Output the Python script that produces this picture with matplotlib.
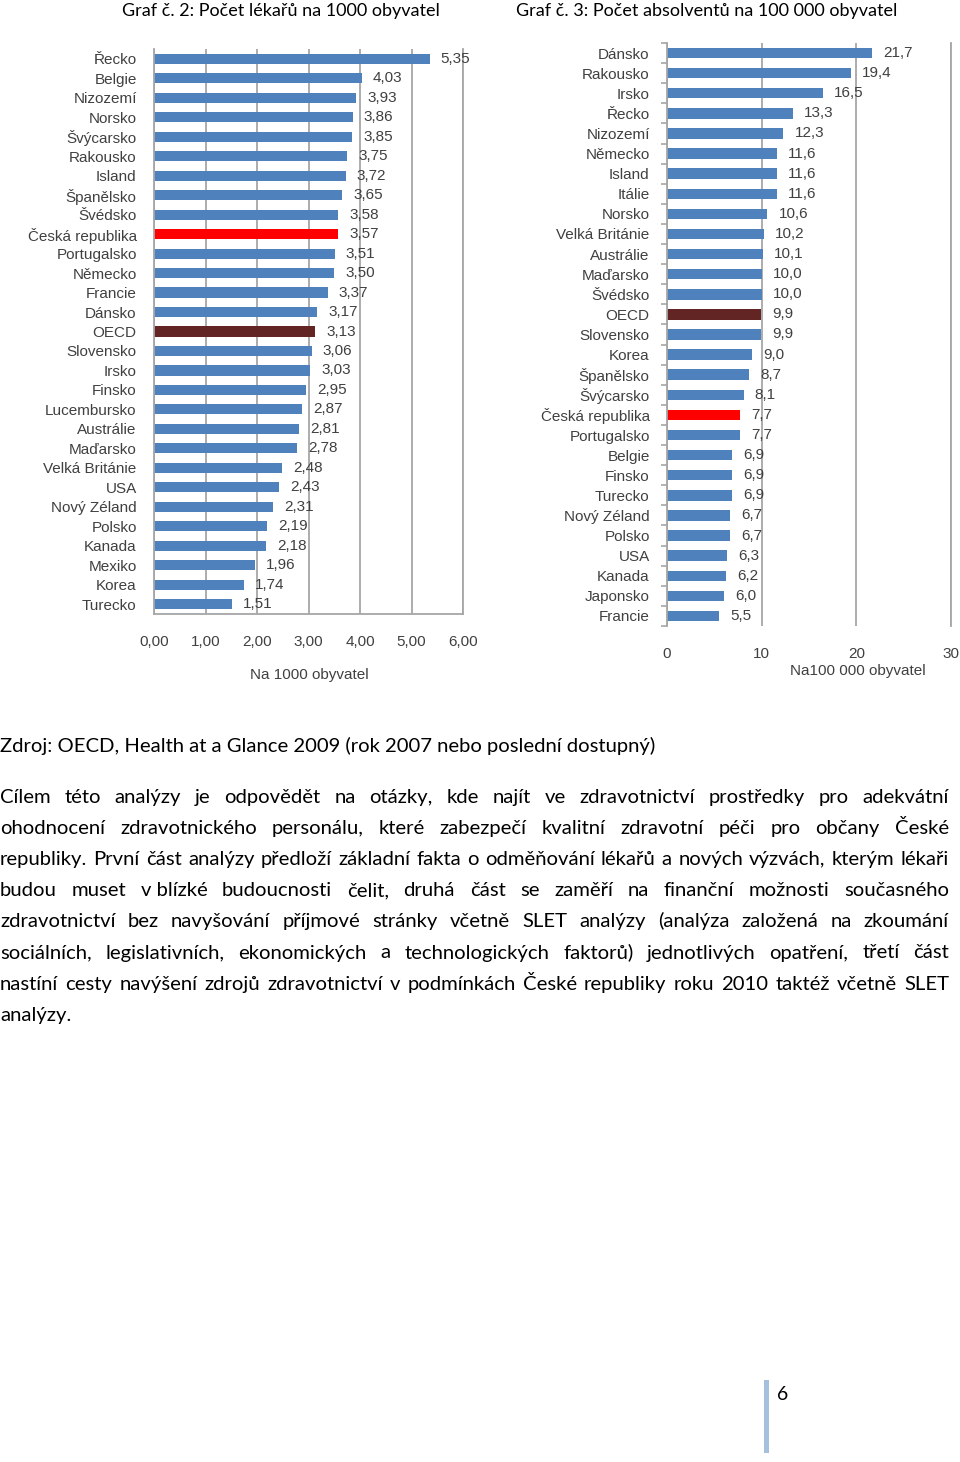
import matplotlib
matplotlib.use('Agg')
import matplotlib.pyplot as plt
from matplotlib.patches import Rectangle
import numpy as np

# Graf 2 - physicians per 1000 inhabitants
countries_doc = ["Řecko", "Belgie", "Nizozemí", "Norsko", "Švýcarsko", "Rakousko", "Island",
                 "Španělsko", "Švédsko", "Česká republika", "Portugalsko", "Německo", "Francie",
                 "Dánsko", "OECD", "Slovensko", "Irsko", "Finsko", "Lucembursko", "Austrálie",
                 "Maďarsko", "Velká Británie", "USA", "Nový Zéland", "Polsko", "Kanada",
                 "Mexiko", "Korea", "Turecko"]
values_doc = [5.35, 4.03, 3.93, 3.86, 3.85, 3.75, 3.72, 3.65, 3.58, 3.57, 3.51, 3.50, 3.37,
              3.17, 3.13, 3.06, 3.03, 2.95, 2.87, 2.81, 2.78, 2.48, 2.43, 2.31, 2.19, 2.18,
              1.96, 1.74, 1.51]
ticks_doc = [0, 1, 2, 3, 4, 5, 6]

# Graf 3 - graduates per 100 000 inhabitants
countries_grad = ["Dánsko", "Rakousko", "Irsko", "Řecko", "Nizozemí", "Německo", "Island",
                  "Itálie", "Norsko", "Velká Británie", "Austrálie", "Maďarsko", "Švédsko",
                  "OECD", "Slovensko", "Korea", "Španělsko", "Švýcarsko", "Česká republika",
                  "Portugalsko", "Belgie", "Finsko", "Turecko", "Nový Zéland", "Polsko", "USA",
                  "Kanada", "Japonsko", "Francie"]
values_grad = [21.7, 19.4, 16.5, 13.3, 12.3, 11.6, 11.6, 11.6, 10.6, 10.2, 10.1, 10.0, 10.0,
               9.9, 9.9, 9.0, 8.7, 8.1, 7.7, 7.7, 6.9, 6.9, 6.9, 6.7, 6.7, 6.3, 6.2, 6.0, 5.5]
ticks_grad = [0, 10, 20, 30]

source = "Zdroj: OECD, Health at a Glance 2009 (rok 2007 nebo poslední dostupný)"
paragraph = [
    "Cílem této analýzy je odpovědět na otázky, kde najít ve zdravotnictví prostředky pro adekvátní",
    "ohodnocení zdravotnického personálu, které zabezpečí kvalitní zdravotní péči pro občany České",
    "republiky. První část analýzy předloží základní fakta o odměňování lékařů a nových výzvách, kterým lékaři",
    "budou muset v\u00a0blízké budoucnosti čelit, druhá část se zaměří na finanční možnosti současného",
    "zdravotnictví bez navyšování příjmové stránky včetně SLET analýzy (analýza založená na zkoumání",
    "sociálních, legislativních, ekonomických a technologických faktorů) jednotlivých opatření, třetí část",
    "nastíní cesty navýšení zdrojů zdravotnictví v podmínkách České republiky roku 2010 taktéž včetně SLET",
    "analýzy.",
]

BLUE = '#4F81BD'
RED = '#FF0000'
OECD_COL = '#632523'
GRID = '#A6A6A6'
TXT = '#404040'
W, H = 960, 1462
FS = 11

plt.rcParams['font.family'] = ['Liberation Sans', 'DejaVu Sans']

fig = plt.figure(figsize=(W / 100, H / 100), dpi=100)
fig.patch.set_facecolor('white')


def bar_colors(names):
    cols = []
    for n in names:
        if n == "Česká republika":
            cols.append(RED)
        elif n == "OECD":
            cols.append(OECD_COL)
        else:
            cols.append(BLUE)
    return cols


def draw_chart(rect, names, vals, ticks, tick_fmt, val_fmt, minor_ticks, bottom_spine):
    ax = fig.add_axes(rect)
    y = np.arange(len(names))
    ax.barh(y, vals, height=0.52, color=bar_colors(names), zorder=2)
    ax.set_ylim(len(names) - 0.5, -0.5)
    ax.set_xlim(ticks[0], ticks[-1])
    ax.set_xticks(ticks)
    ax.set_xticklabels([tick_fmt(t) for t in ticks])
    ax.set_yticks(y)
    ax.set_yticklabels(names)
    ax.grid(axis='x', color=GRID, lw=1.3, zorder=0)
    ax.set_axisbelow(True)
    ax.spines['top'].set_visible(False)
    ax.spines['bottom'].set_visible(bottom_spine)
    for s in ['left', 'right', 'bottom']:
        ax.spines[s].set_color(GRID)
        ax.spines[s].set_linewidth(1.3)
    ax.tick_params(axis='x', length=0, pad=15, labelsize=FS, labelcolor=TXT)
    ax.tick_params(axis='y', length=0, pad=12.5, labelsize=FS, labelcolor=TXT)
    if minor_ticks:
        ax.set_yticks(np.arange(-0.5, len(names), 1), minor=True)
        ax.tick_params(axis='y', which='minor', length=4, color=GRID, width=1.2)
    for yi, v in zip(y, vals):
        ax.annotate(val_fmt(v), (v, yi), xytext=(8, 0), textcoords='offset points',
                    va='center', ha='left', fontsize=FS, color=TXT)
    return ax


ax1 = draw_chart([154 / W, 1 - 614 / H, 309 / W, 565 / H], countries_doc, values_doc, ticks_doc,
                 lambda v: f"{v:.2f}".replace('.', ','), lambda v: f"{v:.2f}".replace('.', ','),
                 False, True)
ax2 = draw_chart([667 / W, 1 - 626 / H, 284 / W, 583 / H], countries_grad, values_grad, ticks_grad,
                 lambda v: str(v), lambda v: f"{v:.1f}".replace('.', ','),
                 True, False)

fig.text(309 / W, 1 - 675 / H, "Na 1000 obyvatel", ha='center', va='center', fontsize=FS, color=TXT)
fig.text(858 / W, 1 - 671 / H, "Na100 000 obyvatel", ha='center', va='center', fontsize=FS, color=TXT)

doc_font = ['Lato', 'DejaVu Sans']
fig.text(281 / W, 1 - 11 / H, "Graf č. 2: Počet lékařů na 1000 obyvatel", ha='center', va='center',
         fontsize=13, family=doc_font, color='black')
fig.text(707 / W, 1 - 11 / H, "Graf č. 3: Počet absolventů na 100 000 obyvatel", ha='center', va='center',
         fontsize=13, family=doc_font, color='black')

BODY = 14.6
fig.text(0, 1 - 752 / H, source, ha='left', va='baseline', fontsize=BODY, family=doc_font, color='black')

# justified paragraph, last line left-aligned
renderer = fig.canvas.get_renderer()
line_w = 949
for i, line in enumerate(paragraph):
    base = 1 - (803 + i * 31.1) / H
    words = line.split(' ')
    texts = [fig.text(0, base, w, ha='left', va='baseline', fontsize=BODY, family=doc_font, color='black')
             for w in words]
    widths = [t.get_window_extent(renderer).width for t in texts]
    if i < len(paragraph) - 1 and len(words) > 1:
        gap = (line_w - sum(widths)) / (len(words) - 1)
    else:
        gap = 4.5
    x = 0
    for t, w in zip(texts, widths):
        t.set_x(x / W)
        x += w + gap

# page number
fig.add_artist(Rectangle((764 / W, 1 - 1453 / H), 5 / W, 73 / H, transform=fig.transFigure,
                         facecolor='#A7BFDE', edgecolor='none'))
fig.text(783 / W, 1 - 1394 / H, "6", ha='center', va='center', fontsize=14, family=doc_font, color='black')

fig.savefig('out.png', dpi=100, facecolor='white')
